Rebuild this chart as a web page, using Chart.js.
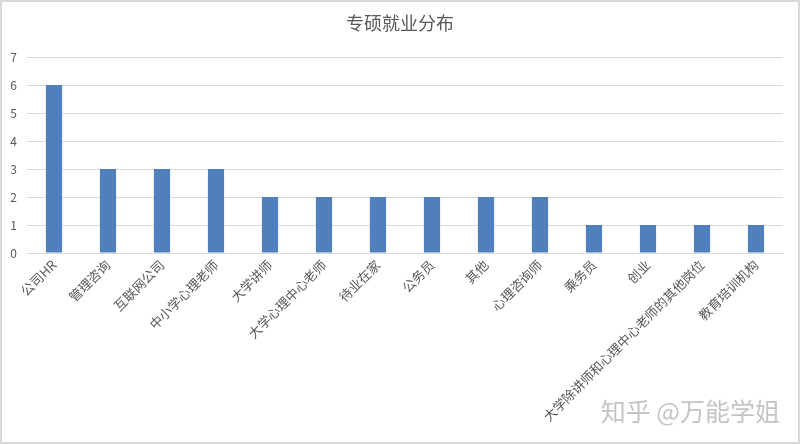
<!DOCTYPE html>
<html lang="zh">
<head>
  <meta charset="UTF-8">
  <title>专硕就业分布</title>
  <script src="https://cdn.jsdelivr.net/npm/chart.js"></script>
  <style>
    html, body { margin: 0; padding: 0; background: #fff; }
    #wrap { width: 800px; height: 444px; }
  </style>
</head>
<body>
  <div id="wrap"><canvas id="jobChart" width="800" height="444"></canvas></div>

  <script>
    const chartTitle = '专硕就业分布';
    const categories = [
      '公司HR', '管理咨询', '互联网公司', '中小学心理老师', '大学讲师',
      '大学心理中心老师', '待业在家', '公务员', '其他', '心理咨询师',
      '乘务员', '创业', '大学除讲师和心理中心老师的其他岗位', '教育培训机构'
    ];
    const counts = [6, 3, 3, 3, 2, 2, 2, 2, 2, 2, 1, 1, 1, 1];
    const yTicks = [0, 1, 2, 3, 4, 5, 6, 7];
    const watermark = '知乎 @万能学姐';

    const cjk = '"Noto Sans CJK SC", "Noto Sans", sans-serif';

    // title, frame and watermark
    const decor = {
      id: 'decor',
      afterDraw(chart) {
        const c = chart.ctx;
        c.save();
        c.strokeStyle = '#d9d9d9';
        c.lineWidth = 2;
        c.strokeRect(1, 1, chart.width - 2, chart.height - 2);

        c.fillStyle = '#595959';
        c.font = '18px ' + cjk;
        c.textAlign = 'center';
        c.textBaseline = 'middle';
        c.fillText(chartTitle, 400, 23);

        c.font = '25px ' + cjk;
        c.textAlign = 'right';
        c.fillStyle = 'rgba(190,190,190,0.9)';
        c.fillText(watermark, 780, 411);
        c.restore();
      }
    };

    const ctx = document.getElementById('jobChart').getContext('2d');
    const chart = new Chart(ctx, {
      type: 'bar',
      data: {
        labels: categories,
        datasets: [{
          label: '人数',
          data: counts,
          backgroundColor: '#4f7fbd',
          borderWidth: 0,
          barPercentage: 0.3,
          categoryPercentage: 1
        }]
      },
      options: {
        responsive: false,
        animation: false,
        layout: { padding: { top: 57, left: 0, right: 17, bottom: 0 } },
        plugins: {
          legend: { display: false },
          title: { display: false },
          tooltip: { enabled: false }
        },
        scales: {
          x: {
            grid: { display: false, drawTicks: false },
            border: { color: '#d9d9d9' },
            ticks: {
              color: '#595959',
              font: { size: 13, family: cjk },
              minRotation: 45,
              maxRotation: 45,
              autoSkip: false,
              padding: 4
            },
            afterFit(s) { s.height = 191; }
          },
          y: {
            min: 0,
            max: 7,
            afterBuildTicks(s) { s.ticks = yTicks.map(v => ({ value: v })); },
            grid: { color: '#d9d9d9', drawTicks: false },
            border: { display: false },
            ticks: {
              color: '#595959',
              font: { size: 12, family: cjk },
              padding: 10
            },
            afterFit(s) { s.width = 27; }
          }
        }
      },
      plugins: [decor]
    });
  </script>
</body>
</html>
